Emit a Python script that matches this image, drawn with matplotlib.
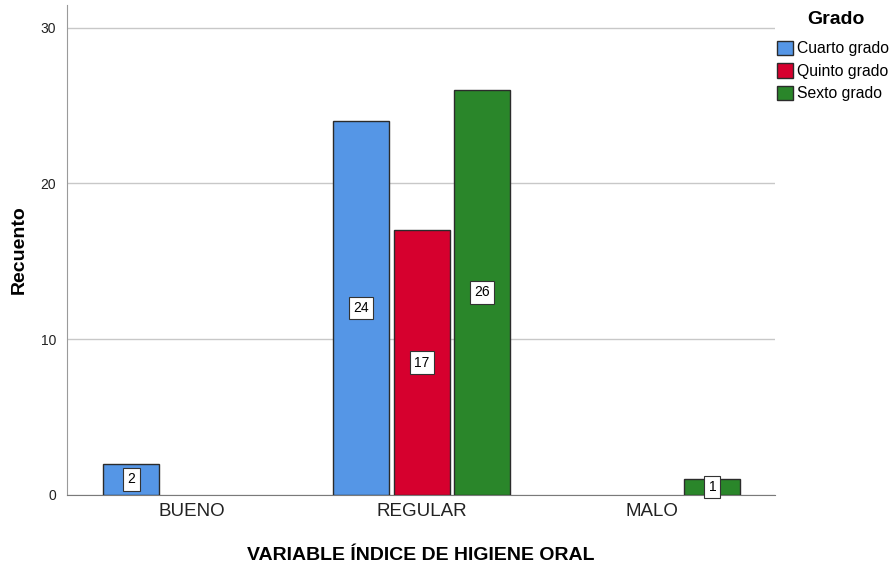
import matplotlib
matplotlib.use("Agg")
import matplotlib.pyplot as plt
from matplotlib.patches import Patch
import numpy as np

categorias = ["BUENO", "REGULAR", "MALO"]
grados = ["Cuarto grado", "Quinto grado", "Sexto grado"]
cuarto = [2, 24, 0]
quinto = [0, 17, 0]
sexto = [0, 26, 1]
colores = ["#5596e6", "#d6002e", "#2a862a"]

plt.rcParams['font.family'] = ['Arial', 'Liberation Sans', 'DejaVu Sans']

fig = plt.figure(figsize=(8.91, 5.66), dpi=100)
ax = fig.add_axes([67 / 891, 71 / 566, 708 / 891, 490 / 566])

x = np.arange(len(categorias))
ancho = 0.243
paso = 0.263
series = [cuarto, quinto, sexto]
for i, (vals, color) in enumerate(zip(series, colores)):
    pos = x + (i - 1) * paso
    for p, v in zip(pos, vals):
        if v == 0:
            continue
        ax.bar(p, v, width=ancho, color=color, edgecolor="#2b2b2b", linewidth=1, zorder=3)
        ax.text(p, v / 2, str(v), ha="center", va="center", fontsize=10, zorder=4,
                bbox=dict(boxstyle="square,pad=0.3", facecolor="white", edgecolor="#333333", linewidth=0.8))

ax.set_xlim(-0.543, 2.535)
ax.set_ylim(0, 31.45)
ax.set_yticks([0, 10, 20, 30])
ax.set_xticks(x)
ax.set_xticklabels(categorias, fontsize=13.5, color="#222222")
ax.tick_params(axis="y", labelsize=10, colors="#222222", length=0, pad=8)
ax.tick_params(axis="x", length=0, pad=6)
ax.yaxis.grid(True, color="#c8c8c8", linewidth=1, zorder=0)
ax.set_axisbelow(True)
for s in ["top", "right"]:
    ax.spines[s].set_visible(False)
ax.spines["left"].set_color("#9a9a9a")
ax.spines["bottom"].set_color("#7a7a7a")

ax.set_ylabel("Recuento", fontsize=14, fontweight="bold", labelpad=9)
ax.set_xlabel("VARIABLE ÍNDICE DE HIGIENE ORAL", fontsize=14, fontweight="bold", labelpad=19)

handles = [Patch(facecolor=c, edgecolor="#2b2b2b", linewidth=1) for c in colores]
fig.text(836 / 891, 1 - 20 / 566, "Grado", ha="center", va="center", fontsize=14, fontweight="bold")
fig.legend(handles, grados, loc="upper left", bbox_to_anchor=(777 / 891, 1 - 41 / 566), frameon=False,
           fontsize=11.3, handlelength=1.0, handleheight=1.0, handletextpad=0.25, labelspacing=0.45,
           borderaxespad=0, borderpad=0)

fig.savefig("out.png", dpi=100)
